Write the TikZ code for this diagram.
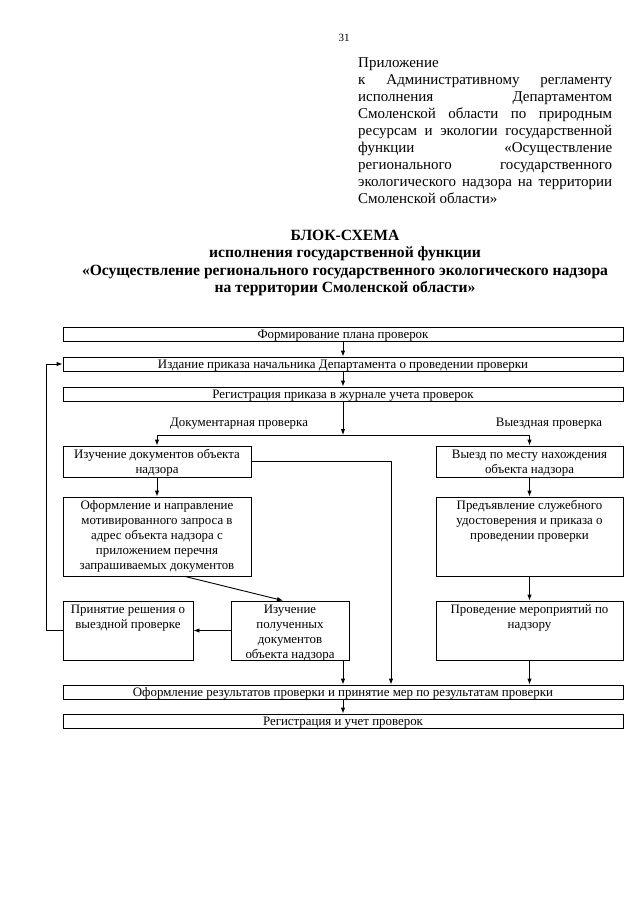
\documentclass[tikz,border=0pt]{standalone}
\usepackage{fontspec}
\setmainfont{Liberation Serif}
\usetikzlibrary{arrows.meta}
\begin{document}
\begin{tikzpicture}[x=1pt,y=-1pt,
   lbl/.style={font=\fontsize{12.9}{15}\selectfont},
   box/.style={lbl,draw,line width=0.9pt,inner sep=2pt},
   wide/.style={box,inner sep=0pt,minimum width=560pt,minimum height=14pt,text height=9.5pt,text depth=1.5pt},
   arr/.style={-{Latex[length=6pt,width=4.5pt]},line width=0.9pt}]
   \def\txt#1#2#3{\parbox[t][#2pt][t]{#1pt}{\centering\strut #3}}
   \useasboundingbox (0,0) rectangle (640,905);
   \node[font=\fontsize{11}{13}\selectfont] (page) at (344,38) {31};
   \node[anchor=north west,align=left,inner sep=0pt,font=\fontsize{15}{17.1}\selectfont] (appx) at (358,57)
      {Приложение\\
       \makebox[254pt][s]{к Административному регламенту}\\
       \makebox[254pt][s]{исполнения Департаментом}\\
       \makebox[254pt][s]{Смоленской области по природным}\\
       \makebox[254pt][s]{ресурсам и экологии государственной}\\
       \makebox[254pt][s]{функции «Осуществление}\\
       \makebox[254pt][s]{регионального государственного}\\
       \makebox[254pt][s]{экологического надзора на территории}\\
       Смоленской области»};
   \node[anchor=north,align=center,inner sep=0pt,font=\fontsize{15.6}{17.3}\selectfont\bfseries] (title) at (345,230)
      {БЛОК-СХЕМА\\
       исполнения государственной функции\\
       «Осуществление регионального государственного экологического надзора\\
       на территории Смоленской области»};
   \node[wide] (plan) at (343,334) {Формирование плана проверок};
   \node[wide] (order) at (343,364) {Издание приказа начальника Департамента о проведении проверки};
   \node[wide] (reg) at (343,394) {Регистрация приказа в журнале учета проверок};
   \coordinate (split) at (343,435);
   \coordinate (bus) at (391,0);
   \node[lbl] (ldoc) at (239,424) {Документарная проверка};
   \node[lbl] (lvisit) at (549,424) {Выездная проверка};
   \node[box] (docs) at (157,461.5) {\txt{184}{27}{Изучение документов объекта\\ надзора}};
   \node[box] (visit) at (529.5,461.5) {\txt{183}{27}{Выезд по месту нахождения\\ объекта надзора}};
   \node[box] (query) at (157,536.5) {\txt{184}{75}{Оформление и направление\\ мотивированного запроса в\\ адрес объекта надзора с\\ приложением перечня\\ запрашиваемых документов}};
   \node[box] (cert) at (529.5,536.5) {\txt{183}{75}{Предъявление служебного\\ удостоверения и приказа о\\ проведении проверки}};
   \node[box] (decide) at (128,630.5) {\txt{126}{55}{Принятие решения о\\ выездной проверке}};
   \node[box] (study) at (290,630.5) {\txt{114}{55}{Изучение\\ полученных\\ документов\\ объекта надзора}};
   \node[box] (acts) at (529.5,630.5) {\txt{183}{55}{Проведение мероприятий по\\ надзору}};
   \node[wide] (result) at (343,692) {Оформление результатов проверки и принятие мер по результатам проверки};
   \node[wide] (record) at (343,721) {Регистрация и учет проверок};
   \draw[arr] (plan) -- (order);
   \draw[arr] (order) -- (reg);
   \draw[arr] (reg) -- (split);
   \draw[arr] (split) -| (docs);
   \draw[arr] (split) -| (visit);
   \draw[arr] (docs) -- (query);
   \draw[arr] (visit) -- (cert);
   \draw[arr] (cert) -- (acts);
   \draw[arr] ([xshift=28pt]query.south) -- ([xshift=-7pt]study.north);
   \draw[arr] (study) -- (decide);
   \draw[arr] (decide.west) -- ++(-16,0) |- (order.west);
   \draw[arr] (docs.east) -| (bus |- result.north);
   \draw[arr] (study.south -| result.north) -- (result.north);
   \draw[arr] (acts) -- (acts |- result.north);
   \draw[arr] (result) -- (record);
\end{tikzpicture}
\end{document}
